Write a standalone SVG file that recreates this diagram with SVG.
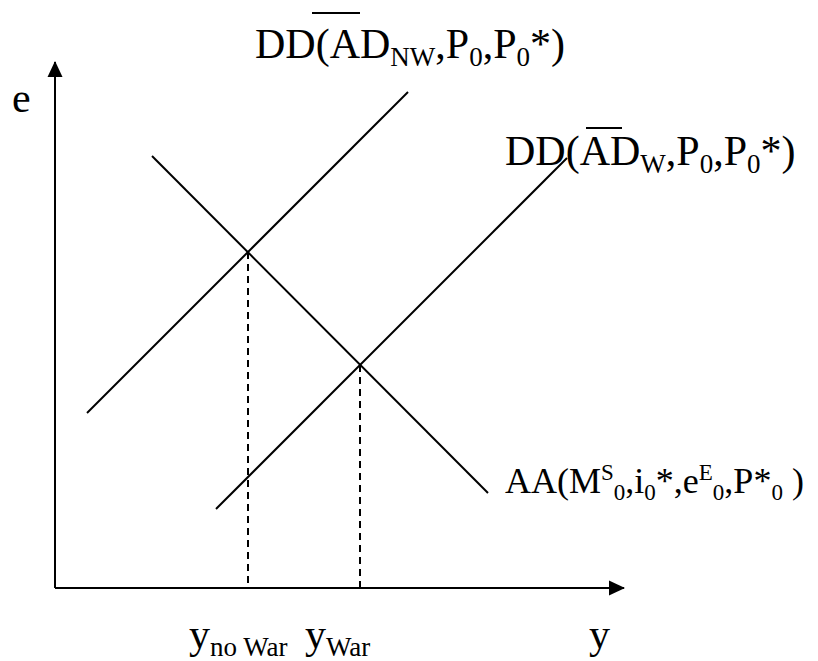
<svg xmlns="http://www.w3.org/2000/svg" width="818" height="661" viewBox="0 0 818 661">
<style>
.ln{stroke:#000;stroke-width:2;fill:none}
.dash{stroke:#000;stroke-width:2;fill:none;stroke-dasharray:7 5}
.t{font-family:"Liberation Serif","Times New Roman",serif;font-size:42px;fill:#000}
.s{font-size:27px}
.a{font-size:36px}
.as{font-size:23px}
</style>
<defs>
<marker id="ah" markerWidth="16" markerHeight="16" refX="15" refY="8" orient="auto" markerUnits="userSpaceOnUse">
<path d="M0,0.5 L16,8 L0,15.5 Z" fill="#000"/>
</marker>
</defs>
<g id="axes">
<line class="ln" x1="55" y1="588" x2="55" y2="62" marker-end="url(#ah)"/>
<line class="ln" x1="55" y1="588" x2="624" y2="588" marker-end="url(#ah)"/>
<text class="t" x="12" y="112">e</text>
<text class="t" x="589" y="648">y</text>
</g>
<g id="connectors">
<line class="ln" x1="87" y1="413" x2="408" y2="92"/>
<line class="ln" x1="216" y1="509" x2="567" y2="158"/>
<line class="ln" x1="152" y1="156" x2="488" y2="493"/>
<line class="dash" x1="248" y1="252" x2="248" y2="588"/>
<line class="dash" x1="360" y1="365" x2="360" y2="588"/>
</g>
<g id="dd-nw">
<line class="ln" x1="312" y1="13" x2="360" y2="13"/>
<text class="t" x="255" y="58">DD(AD<tspan class="s" dy="8">NW</tspan><tspan dy="-8">,P</tspan><tspan class="s" dy="8">0</tspan><tspan dy="-8">,P</tspan><tspan class="s" dy="8">0</tspan><tspan dy="-8">*)</tspan></text>
</g>
<g id="dd-w">
<line class="ln" x1="586" y1="128" x2="622" y2="128"/>
<text class="t" x="505" y="165">DD(AD<tspan class="s" dy="8">W</tspan><tspan dy="-8">,P</tspan><tspan class="s" dy="8">0</tspan><tspan dy="-8">,P</tspan><tspan class="s" dy="8">0</tspan><tspan dy="-8">*)</tspan></text>
</g>
<g id="aa">
<text class="t a" x="505" y="493">AA(M<tspan class="as" dy="-13">S</tspan><tspan class="as" dy="20">0</tspan><tspan dy="-7">,i</tspan><tspan class="as" dy="7">0</tspan><tspan dy="-7">*,e</tspan><tspan class="as" dy="-13">E</tspan><tspan class="as" dy="20">0</tspan><tspan dy="-7">,P*</tspan><tspan class="as" dy="7">0</tspan><tspan dy="-7"> )</tspan></text>
</g>
<g id="y-nowar">
<text class="t" x="189" y="648">y<tspan class="s" dy="8">no War</tspan></text>
</g>
<g id="y-war">
<text class="t" x="305" y="648">y<tspan class="s" dy="8">War</tspan></text>
</g>
</svg>
